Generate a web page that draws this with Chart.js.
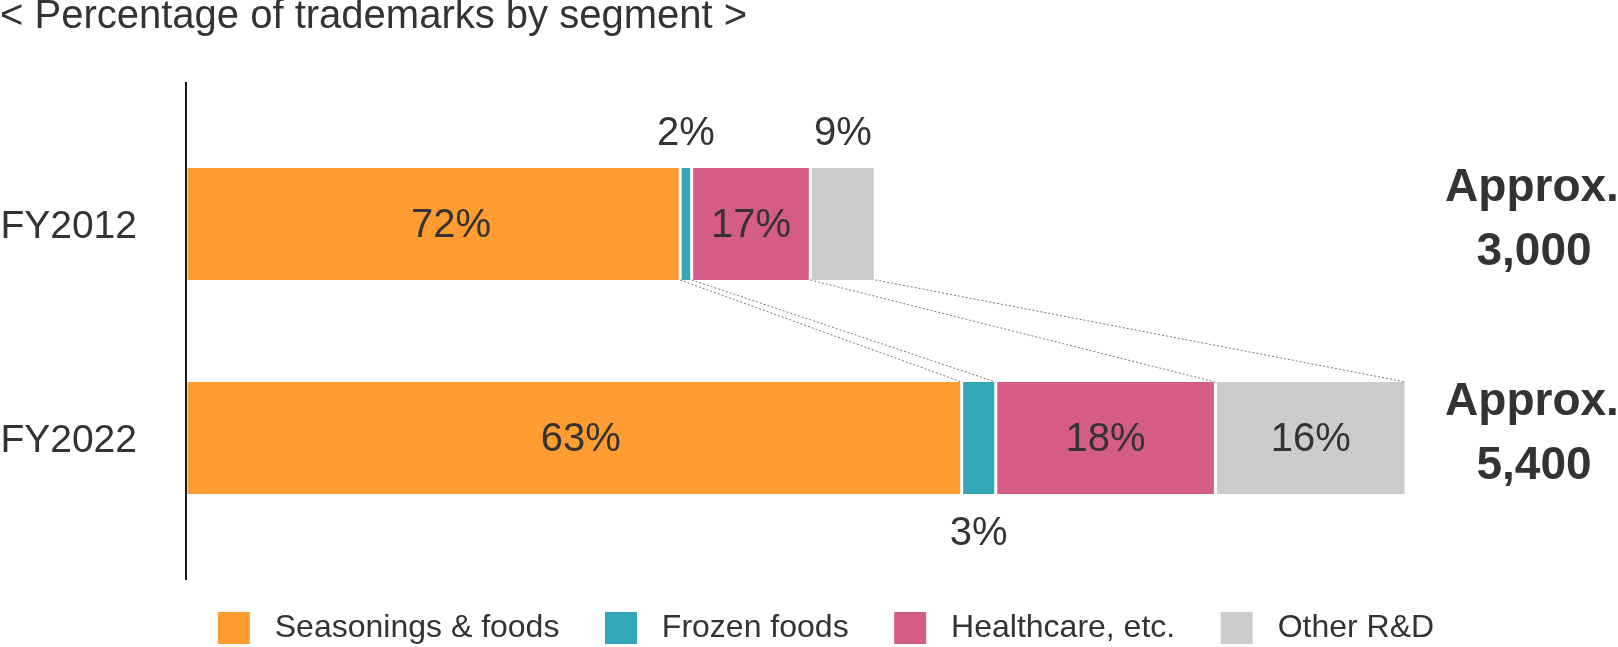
<!DOCTYPE html>
<html><head><meta charset="utf-8">
<script src="https://cdn.jsdelivr.net/npm/chart.js@4.4.1/dist/chart.umd.min.js"></script>
<style>html,body{margin:0;padding:0;background:#fff;overflow:hidden}#wrap{width:1618px;height:647px;position:relative}</style>
</head><body><div id="wrap"><canvas id="c"></canvas></div>
<script>
// ---- data ----
const categories = ['FY2012', 'FY2022'];
const segments = ['Seasonings & foods', 'Frozen foods', 'Healthcare, etc.', 'Other R&D'];
const seasonings = [2187, 3433];
const frozen = [51, 151];
const healthcare = [525, 972];
const otherRD = [288, 844];
const seasoningsLabels = ['72%', '63%'];
const frozenLabels = ['2%', '3%'];
const healthcareLabels = ['17%', '18%'];
const otherLabels = ['9%', '16%'];
const totalPrefix = 'Approx.';
const totalLabels = ['3,000', '5,400'];
const titleText = '< Percentage of trademarks by segment >';
const xMax = 6338;

// ---- style ----
const colors = ['#FF9D33', '#33A6B7', '#D65C88', '#CCCCCC'];
const textColor = '#333333';
const FONT = "'Liberation Sans', Arial, Helvetica, sans-serif";
const placements = [['in', 'in'], ['above', 'below'], ['in', 'in'], ['above', 'in']];
const nudgeX = [[18, 7], [0, 0], [0, 0], [0, 0]];

const overlay = {
  id: 'overlay',
  afterLayout(chart) {
    if (chart.legend) { chart.legend.left += 17; chart.legend.right += 17; }
  },
  afterDatasetsDraw(chart) {
    const ctx = chart.ctx, area = chart.chartArea;
    const metas = chart.data.datasets.map((d, i) => chart.getDatasetMeta(i));
    ctx.save();
    // axis line
    ctx.strokeStyle = '#1a1a1a'; ctx.lineWidth = 2;
    ctx.beginPath(); ctx.moveTo(area.left, area.top - 35); ctx.lineTo(area.left, area.bottom + 35); ctx.stroke();
    // connectors
    ctx.strokeStyle = '#777'; ctx.lineWidth = 1; ctx.setLineDash([2, 2]);
    metas.forEach(m => {
      const a = m.data[0], b = m.data[1];
      ctx.beginPath(); ctx.moveTo(a.x, a.y + a.height / 2); ctx.lineTo(b.x, b.y - b.height / 2); ctx.stroke();
    });
    ctx.setLineDash([]);
    // value labels
    ctx.fillStyle = textColor; ctx.font = `40px ${FONT}`; ctx.textAlign = 'center'; ctx.textBaseline = 'middle';
    metas.forEach((m, di) => {
      const labels = chart.data.datasets[di].valueLabels;
      m.data.forEach((el, ci) => {
        const cx = (el.x + el.base) / 2 + nudgeX[di][ci];
        const pos = placements[di][ci];
        let y = el.y + 2;
        if (pos === 'above') y = el.y - el.height / 2 - 34;
        if (pos === 'below') y = el.y + el.height / 2 + 40;
        ctx.fillText(labels[ci], cx, y);
      });
    });
    // totals
    ctx.font = `bold 46px ${FONT}`; ctx.textBaseline = 'alphabetic';
    const ys = chart.scales.y;
    categories.forEach((c, i) => {
      const yc = ys.getPixelForValue(i);
      ctx.fillText(totalPrefix, chart.width - 86, yc - 23);
      ctx.fillText(totalLabels[i], chart.width - 84, yc + 41);
    });
    ctx.restore();
  }
};

const series = [seasonings, frozen, healthcare, otherRD];
const seriesLabels = [seasoningsLabels, frozenLabels, healthcareLabels, otherLabels];

new Chart(document.getElementById('c'), {
  type: 'bar',
  data: {
    labels: categories,
    datasets: series.map((d, i) => ({
      label: segments[i], data: d, backgroundColor: colors[i], valueLabels: seriesLabels[i]
    }))
  },
  options: {
    indexAxis: 'y', responsive: true, maintainAspectRatio: false, animation: false, devicePixelRatio: 1,
    layout: { padding: { left: 0, right: 0, top: 0, bottom: -7 } },
    datasets: { bar: { barPercentage: 0.523, categoryPercentage: 1, borderColor: '#ffffff',
      borderWidth: { left: 1.5, right: 1.5, top: 0, bottom: 0 }, borderSkipped: false } },
    scales: {
      x: { stacked: true, min: 0, max: xMax, ticks: { display: false }, grid: { display: false },
        border: { display: false }, afterFit(s) { s.height = 57; } },
      y: { stacked: true, ticks: { color: textColor, font: { size: 39, family: FONT }, padding: 49, labelOffset: 3 },
        grid: { display: false, drawTicks: false }, border: { display: false },
        afterFit(s) { s.width = 186; } }
    },
    plugins: {
      title: { display: true, text: titleText, align: 'start', color: textColor,
        font: { size: 40, family: FONT, weight: 'normal', lineHeight: 1 }, padding: { top: -3, bottom: 80 } },
      legend: { position: 'bottom', labels: { color: textColor, font: { size: 32, family: FONT },
        boxWidth: 32, boxHeight: 32, padding: 10,
        generateLabels(chart) {
          const items = Chart.defaults.plugins.legend.labels.generateLabels(chart);
          return items.map((it, i) => Object.assign({}, it, {
            text: ' ' + it.text + (i < items.length - 1 ? '    ' : ''), lineWidth: 0 }));
        } } },
      tooltip: { enabled: false }
    }
  },
  plugins: [overlay]
});
</script></body></html>
